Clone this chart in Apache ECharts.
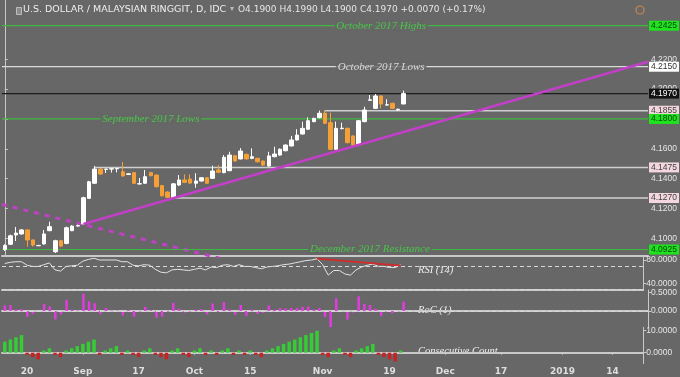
<!DOCTYPE html>
<html>
<head>
<meta charset="utf-8">
<script src="https://cdn.jsdelivr.net/npm/echarts@6/dist/echarts.min.js"></script>
<style>
  html, body { margin: 0; padding: 0; background: #676767; }
  #chart { width: 680px; height: 377px; }
</style>
</head>
<body>
<div id="chart"></div>
<script>
// daily bars, weekdays from 14 Aug 2018; [open, close, low, high]
const candles = [
  [4.0925, 4.0952, 4.0915, 4.0960], [4.0960, 4.1017, 4.0955, 4.1025], [4.1022, 4.1035, 4.0982, 4.1076],
  [4.1029, 4.1056, 4.1025, 4.1062], [4.1056, 4.0989, 4.0944, 4.1060], [4.0989, 4.0955, 4.0945, 4.0992],
  [4.0950, 4.0952, 4.0948, 4.0956], [4.0962, 4.1029, 4.0958, 4.1056], [4.1051, 4.1078, 4.1048, 4.1111],
  [4.0910, 4.0984, 4.0901, 4.0990], [4.0984, 4.0948, 4.0940, 4.0990], [4.0966, 4.1071, 4.0960, 4.1078],
  [4.1051, 4.1082, 4.1048, 4.1088], [4.1082, 4.1085, 4.1078, 4.1092], [4.1096, 4.1272, 4.1094, 4.1279],
  [4.1268, 4.1379, 4.1265, 4.1385], [4.1369, 4.1464, 4.1365, 4.1485], [4.1464, 4.1431, 4.1425, 4.1472],
  [4.1462, 4.1464, 4.1438, 4.1466], [4.1464, 4.1466, 4.1440, 4.1468], [4.1466, 4.1468, 4.1442, 4.1470],
  [4.1446, 4.1418, 4.1412, 4.1511], [4.1428, 4.1432, 4.1424, 4.1436], [4.1440, 4.1369, 4.1365, 4.1445],
  [4.1364, 4.1366, 4.1362, 4.1404], [4.1369, 4.1413, 4.1365, 4.1458], [4.1440, 4.1420, 4.1415, 4.1445],
  [4.1424, 4.1346, 4.1340, 4.1428], [4.1353, 4.1285, 4.1280, 4.1358], [4.1310, 4.1275, 4.1270, 4.1315],
  [4.1272, 4.1365, 4.1270, 4.1370], [4.1357, 4.1391, 4.1352, 4.1424], [4.1391, 4.1375, 4.1370, 4.1429],
  [4.1397, 4.1370, 4.1366, 4.1429], [4.1369, 4.1384, 4.1339, 4.1436], [4.1384, 4.1406, 4.1380, 4.1410],
  [4.1406, 4.1369, 4.1365, 4.1410], [4.1402, 4.1451, 4.1398, 4.1487], [4.1458, 4.1442, 4.1438, 4.1491],
  [4.1440, 4.1543, 4.1436, 4.1558], [4.1453, 4.1558, 4.1450, 4.1580], [4.1554, 4.1518, 4.1514, 4.1558],
  [4.1532, 4.1585, 4.1528, 4.1605], [4.1563, 4.1532, 4.1528, 4.1567], [4.1536, 4.1547, 4.1530, 4.1603],
  [4.1536, 4.1513, 4.1508, 4.1540], [4.1518, 4.1491, 4.1485, 4.1522], [4.1485, 4.1552, 4.1480, 4.1580],
  [4.1547, 4.1565, 4.1543, 4.1614], [4.1558, 4.1597, 4.1554, 4.1602], [4.1587, 4.1625, 4.1583, 4.1630],
  [4.1619, 4.1659, 4.1615, 4.1686], [4.1659, 4.1692, 4.1655, 4.1731], [4.1699, 4.1737, 4.1695, 4.1782],
  [4.1731, 4.1788, 4.1727, 4.1811], [4.1782, 4.1804, 4.1778, 4.1808], [4.1808, 4.1838, 4.1804, 4.1856],
  [4.1838, 4.1771, 4.1765, 4.1858], [4.1775, 4.1597, 4.1592, 4.1842], [4.1597, 4.1737, 4.1592, 4.1782],
  [4.1735, 4.1738, 4.1730, 4.1775], [4.1737, 4.1641, 4.1636, 4.1742], [4.1686, 4.1625, 4.1619, 4.1690],
  [4.1625, 4.1788, 4.1620, 4.1792], [4.1782, 4.1860, 4.1778, 4.1882], [4.1925, 4.1928, 4.1922, 4.1960],
  [4.1871, 4.1954, 4.1866, 4.1967], [4.1954, 4.1900, 4.1871, 4.1958], [4.1893, 4.1895, 4.1890, 4.1932],
  [4.1905, 4.1871, 4.1866, 4.1909], [4.1860, 4.1865, 4.1855, 4.1869], [4.1900, 4.1970, 4.1900, 4.1990]
];

const rsi = [
  74, 76, 77, 77, 71, 69, 69, 72, 75, 63, 61, 69, 70, 71, 78, 81, 83, 80, 80, 80, 80, 77, 77, 71,
  70, 72, 71, 64, 59, 58, 63, 64, 63, 62, 64, 66, 63, 68, 67, 71, 72, 69, 72, 69, 69, 67, 65, 68,
  69, 70, 72, 73, 75, 77, 79, 80, 82, 72, 54, 62, 62, 56, 54, 63, 68, 71, 73, 69, 69, 67, 67, 72
];

const roc = [
  0.15, 0.16, 0.04, 0.05, -0.16, -0.08, -0.01, 0.19, 0.12, -0.23, -0.09, 0.30, 0.03, 0.01, 0.46, 0.26,
  0.21, -0.08, 0.08, 0.01, 0.01, -0.12, 0.03, -0.15, -0.01, 0.11, 0.02, -0.18, -0.15, -0.02, 0.22, 0.06,
  -0.04, -0.01, 0.03, 0.05, -0.09, 0.20, -0.02, 0.24, 0.04, -0.10, 0.16, -0.13, 0.04, -0.08, -0.05, 0.15,
  0.03, 0.08, 0.07, 0.08, 0.08, 0.11, 0.12, 0.04, 0.08, -0.16, -0.43, 0.34, 0.00, -0.23, -0.04, 0.39,
  0.19, 0.16, 0.06, -0.13, -0.01, -0.06, -0.01, 0.25
];

const consecutive = [
  5, 6, 7, 8, -1, -2, -3, 1, 2, -1, -2, 1, 2, 3, 4, 5, 6, -1, 1, 2, 3, -1, 1, -1,
  -2, 1, 2, -1, -2, -3, 1, 2, -1, -2, 1, 2, -1, 1, -1, 1, 2, -1, 1, -1, 1, -1, -2, 1,
  2, 3, 4, 5, 6, 7, 8, 9, 10, -1, -2, 1, 2, -1, -2, 1, 2, 3, 4, -1, -2, -3, -4, 1
];

// horizontal levels: [price, first bar, kind]
const levels = [
  [4.2425, -0.5, 'green'],
  [4.2150, -0.5, 'white'],
  [4.1970, -0.5, 'black'],
  [4.1855, 57, 'gray'],
  [4.1800, -0.5, 'green'],
  [4.1475, 16, 'gray'],
  [4.1270, 30, 'gray'],
  [4.0925, -0.5, 'green']
];

// notes on the levels: [text, bar, price, kind]
const notes = [
  ['October 2017 Highs', 67, 4.2425, 'green'],
  ['October 2017 Lows', 67, 4.2150, 'white'],
  ['September 2017 Lows', 26, 4.1800, 'green'],
  ['December 2017 Resistance', 65, 4.0925, 'green']
];

const upTrend = [[14, 4.1096], [114.5, 4.2183]];
const downTrend = [[-0.5, 4.1227], [40, 4.0850]];
const rsiTrend = [[56, 82.5], [71, 70.5]];

const priceTicks = [4.10, 4.12, 4.14, 4.16, 4.18, 4.20, 4.22];
const dateTicks = {
  '2018-08-20': '20', '2018-09-03': 'Sep', '2018-09-17': '17', '2018-10-01': 'Oct',
  '2018-10-15': '15', '2018-11-01': 'Nov', '2018-11-19': '19', '2018-12-03': 'Dec',
  '2018-12-17': '17', '2019-01-01': '2019', '2019-01-14': '14'
};

// weekday categories, 14 Aug 2018 .. 21 Jan 2019
const days = [];
for (let d = new Date(Date.UTC(2018, 7, 14)); days.length < 115; d.setUTCDate(d.getUTCDate() + 1)) {
  const wd = d.getUTCDay();
  if (wd !== 0 && wd !== 6) days.push(d.toISOString().slice(0, 10));
}

const BG = '#676767';
const AXIS = '#c9c9c9';
const kinds = {
  green: { line: '#3dba3d', text: '#46d846', tag: '#1ee41e', tagText: '#0d3d0d' },
  white: { line: '#dadada', text: '#f2f2f2', tag: '#ffffff', tagText: '#333333' },
  black: { line: '#1c1c1c', text: '#ffffff', tag: '#111111', tagText: '#ffffff' },
  gray: { line: '#cfcfcf', text: '#eeeeee', tag: '#f3d6de', tagText: '#444444' }
};

var chartDom = document.getElementById('chart');
var myChart = echarts.init(chartDom);

const isTick = (i, v) => dateTicks[v] !== undefined;

function catAxis(grid, withLabels) {
  return {
    type: 'category', gridIndex: grid, data: days, boundaryGap: true,
    axisLine: { show: true, lineStyle: { color: AXIS, width: 2 } },
    axisTick: withLabels
      ? { show: true, interval: isTick, alignWithLabel: true, length: 2, lineStyle: { color: AXIS } }
      : { show: false },
    axisLabel: withLabels
      ? { show: true, interval: isTick, formatter: (v) => dateTicks[v], color: '#dedede',
          fontSize: 9, fontWeight: 'bold', fontFamily: 'DejaVu Sans', margin: 4 }
      : { show: false },
    splitLine: { show: false }
  };
}

function valAxis(grid, min, max, ticks) {
  return {
    type: 'value', gridIndex: grid, position: 'right', min: min, max: max,
    axisLine: { show: true, lineStyle: { color: AXIS, width: 1 } },
    axisTick: { show: true, customValues: ticks, length: 3, lineStyle: { color: AXIS } },
    axisLabel: { show: true, customValues: ticks, formatter: (v) => v.toFixed(4), color: '#e6e6e6',
      fontSize: 8.5, fontFamily: 'Liberation Sans', margin: 3 },
    splitLine: { show: false }
  };
}

const series = [];

levels.forEach(([price, from, kind]) => {
  const k = kinds[kind];
  series.push({
    type: 'line', xAxisIndex: 1, yAxisIndex: 0, symbol: 'none', silent: true,
    data: [[from, price], [114.5, price]],
    lineStyle: { color: k.line, width: kind === 'gray' ? 1.5 : 1.2 },
    endLabel: {
      show: true, distance: 1, formatter: () => price.toFixed(4),
      backgroundColor: k.tag, color: k.tagText, padding: [1, 2, 0, 2],
      fontSize: 8.5, fontFamily: 'Liberation Sans'
    },
    z: 3
  });
});

series.push({
  type: 'line', xAxisIndex: 1, yAxisIndex: 0, symbol: 'none', silent: true,
  data: downTrend, lineStyle: { color: '#c23fc8', width: 3, type: [5, 6] }, z: 2
});

series.push({
  type: 'candlestick', xAxisIndex: 0, yAxisIndex: 0, data: candles, barWidth: 4,
  itemStyle: { color: '#ffffff', color0: '#f5a037', borderColor: '#ffffff', borderColor0: '#f5a037', borderWidth: 1 },
  z: 4
});

series.push({
  type: 'line', xAxisIndex: 1, yAxisIndex: 0, symbol: 'none', silent: true,
  data: upTrend, lineStyle: { color: '#c23fc8', width: 2.5 }, z: 5
});

series.push({
  type: 'scatter', xAxisIndex: 1, yAxisIndex: 0, symbolSize: 0, silent: true,
  data: notes.map(([text, bar, price, kind]) => ({
    value: [bar, price],
    label: { color: kinds[kind].text }
  })),
  label: {
    show: true, position: 'inside',
    formatter: (p) => notes[p.dataIndex][0],
    backgroundColor: BG, padding: [0, 2],
    fontSize: 11, fontStyle: 'italic', fontFamily: 'Liberation Serif'
  },
  z: 6
});

series.push({
  type: 'line', xAxisIndex: 2, yAxisIndex: 1, symbol: 'none', silent: true,
  data: rsi, lineStyle: { color: '#e2e2e2', width: 1 },
  markLine: {
    silent: true, symbol: 'none', label: { show: false },
    lineStyle: { color: '#d8d8d8', type: [4, 3], width: 1.2 },
    data: [{ yAxis: 70 }, { yAxis: 30 }]
  }
});

series.push({
  type: 'line', xAxisIndex: 2, yAxisIndex: 1, symbol: 'none', silent: true,
  data: rsiTrend, lineStyle: { color: '#d42a2a', width: 1.8 }
});

series.push({
  type: 'bar', xAxisIndex: 3, yAxisIndex: 2, data: roc, barWidth: 2.5,
  itemStyle: { color: '#e03ce0' },
  markLine: {
    silent: true, symbol: 'none', label: { show: false },
    lineStyle: { color: '#d8d8d8', type: [4, 3], width: 1.2 },
    data: [{ yAxis: 0 }]
  }
});

series.push({
  type: 'bar', xAxisIndex: 4, yAxisIndex: 3, data: consecutive, barWidth: 3.5,
  itemStyle: { color: (p) => (p.value >= 0 ? '#35cc35' : '#c82222') }
});

const paneText = (x, y, text) => ({
  type: 'text', left: x, top: y,
  style: { text: text, fill: '#eeeeee', font: 'italic 10.5px "Liberation Serif"' }
});

option = {
  animation: false,
  backgroundColor: BG,
  grid: [
    { left: 2, right: 29, top: 0, height: 256 },
    { left: 2, right: 29, top: 256, height: 34 },
    { left: 2, right: 29, top: 290, height: 37.5 },
    { left: 2, right: 29, top: 327.5, height: 36 }
  ],
  xAxis: [
    catAxis(0, false),
    { type: 'value', gridIndex: 0, min: -0.5, max: 114.5, show: false },
    catAxis(1, false),
    catAxis(2, false),
    catAxis(3, true)
  ],
  yAxis: [
    valAxis(0, 4.08814, 4.25972, priceTicks),
    valAxis(1, 28.5, 86.87, [40, 80]),
    valAxis(2, -0.4412, 0.5615, [0, 0.5]),
    valAxis(3, -4.909, 11.4545, [0, 10])
  ],
  graphic: [
    { type: 'rect', left: 16, top: 7, shape: { width: 5, height: 7 },
      style: { fill: '#8c8c8c', stroke: '#bdbdbd', lineWidth: 1 } },
    { type: 'text', left: 23, top: 5,
      style: { text: 'U.S. DOLLAR / MALAYSIAN RINGGIT, D, IDC', fill: '#eeeeee', font: '9.5px "DejaVu Sans"' } },
    { type: 'text', left: 230, top: 5, style: { text: '▾', fill: '#bbbbbb', font: '8px "DejaVu Sans"' } },
    { type: 'text', left: 238, top: 5,
      style: { text: 'O4.1900 H4.1990 L4.1900 C4.1970 +0.0070 (+0.17%)', fill: '#e6e6e6', font: '9px "DejaVu Sans"' } },
    { type: 'circle', shape: { cx: 640, cy: 10, r: 4 },
      style: { fill: 'none', stroke: '#c98a4b', lineWidth: 1.2 } },
    paneText(418, 265, 'RSI (14)'),
    paneText(418, 305, 'RoC (1)'),
    paneText(418, 346, 'Consecutive Count')
  ],
  series: series
};

option && myChart.setOption(option);
</script>
</body>
</html>
